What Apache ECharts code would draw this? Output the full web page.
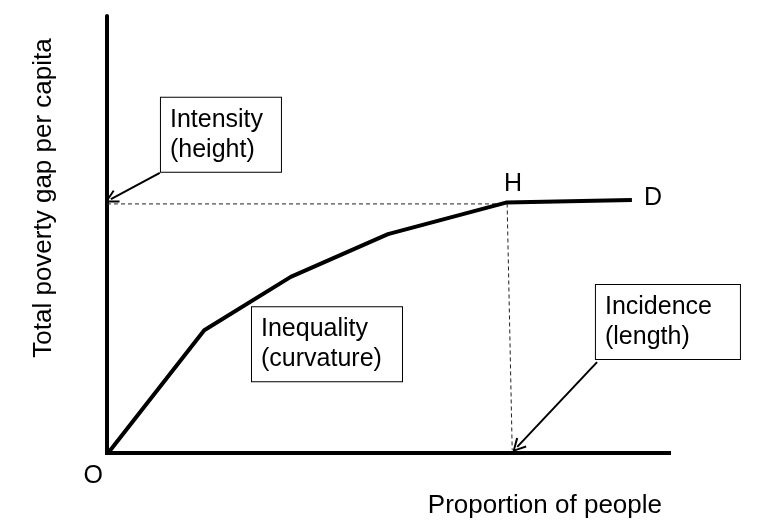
<!DOCTYPE html>
<html>
<head>
<meta charset="utf-8">
<script src="https://cdn.jsdelivr.net/npm/echarts@6/dist/echarts.min.js"></script>
<style>
  html, body { margin: 0; padding: 0; background: #fff; }
  #main { width: 763px; height: 525px; }
</style>
</head>
<body>
<div id="main"></div>
<script>
// TIP curve: x = proportion of people, y = cumulative poverty gap per capita (0-100 scale)
var curveX = [0.2, 17.3, 32.7, 50.0, 71.0, 93.4];
var curveY = [0, 28.1, 40.3, 50.1, 57.3, 57.9];
var pointNames = ["O", "", "", "", "H", "D"];

// dashed guides from H to the axes
var hGuide = [[0, 57.0], [71.0, 57.0]];
var vGuide = [[71.2, 57.1], [72.1, 0.7]];

// annotation boxes: left-middle anchor of box
var boxTexts = ["Intensity\n(height)", "Inequality\n(curvature)", "Incidence\n(length)"];
var boxAnchors = [[9.6, 72.8], [25.8, 24.9], [87.0, 30.0]];
var boxWidths = [111, 141, 135];

// arrows from boxes to axes
var arrows = [
  [[9.4, 64.1], [0.7, 58.1]],
  [[87.2, 20.8], [73.0, 1.4]]
];

var FONT = '"Liberation Sans", Arial, sans-serif';
var arrowHead = "path://M0,10 L5,0 L10,10 L8.8,10.9 L5,3 L1.2,10.9 Z";

var chart = echarts.init(document.getElementById("main"));

var curveData = curveX.map(function (x, i) {
  var item = { value: [x, curveY[i]] };
  if (pointNames[i] == "O") {
    item.label = { show: true, formatter: "O", position: "inside", offset: [-15, 23] };
  } else if (pointNames[i] == "H") {
    item.label = { show: true, formatter: "H", position: "top", distance: 6, offset: [7, 0] };
  } else if (pointNames[i] == "D") {
    item.label = { show: true, formatter: "D", position: "right", distance: 12, offset: [0, -2] };
  }
  return item;
});

var option = {
  animation: false,
  backgroundColor: "#fff",
  grid: { left: 107, right: 94, top: 16, bottom: 72 },
  xAxis: {
    type: "value",
    min: 0,
    max: 100,
    axisLine: { show: true, lineStyle: { color: "#000", width: 4, cap: "square" } },
    axisTick: { show: false },
    axisLabel: { show: false },
    splitLine: { show: false }
  },
  yAxis: {
    type: "value",
    min: 0,
    max: 100,
    axisLine: { show: true, lineStyle: { color: "#000", width: 4 } },
    axisTick: { show: false },
    axisLabel: { show: false },
    splitLine: { show: false }
  },
  graphic: [
    {
      type: "text",
      x: 662,
      y: 506,
      style: {
        text: "Proportion of people",
        font: "26px " + FONT,
        fill: "#000",
        align: "right",
        verticalAlign: "middle"
      }
    },
    {
      type: "text",
      x: 44,
      y: 198,
      rotation: Math.PI / 2,
      style: {
        text: "Total poverty gap per capita",
        font: "26px " + FONT,
        fill: "#000",
        align: "center",
        verticalAlign: "middle"
      }
    }
  ],
  series: [
    {
      type: "line",
      data: hGuide,
      symbol: "none",
      lineStyle: { color: "#222", width: 1, type: [4, 3] },
      z: 1
    },
    {
      type: "line",
      data: vGuide,
      symbol: "none",
      lineStyle: { color: "#222", width: 1, type: [4, 3] },
      z: 1
    },
    {
      type: "line",
      data: curveData,
      symbol: "circle",
      symbolSize: 0,
      lineStyle: { color: "#000", width: 4 },
      label: { color: "#000", fontSize: 25, fontFamily: FONT, textBorderWidth: 0 },
      z: 3
    },
    {
      type: "lines",
      coordinateSystem: "cartesian2d",
      data: arrows.map(function (a) { return { coords: a }; }),
      symbol: ["none", arrowHead],
      symbolSize: 14,
      lineStyle: { color: "#000", width: 2, opacity: 1 },
      z: 2
    },
    {
      type: "scatter",
      clip: false,
      symbolSize: 0,
      itemStyle: { color: "#000", opacity: 1 },
      data: boxAnchors.map(function (p, i) {
        return {
          value: p,
          label: { formatter: boxTexts[i], width: boxWidths[i] }
        };
      }),
      label: {
        show: true,
        position: "inside",
        align: "left",
        verticalAlign: "middle",
        color: "#000",
        textBorderWidth: 0,
        fontSize: 25,
        fontFamily: FONT,
        lineHeight: 30,
        padding: [7, 0, 7, 9],
        borderColor: "#000",
        borderWidth: 1,
        backgroundColor: "#fff"
      },
      emphasis: { disabled: true },
      z: 4
    }
  ]
};

chart.setOption(option);
</script>
</body>
</html>
